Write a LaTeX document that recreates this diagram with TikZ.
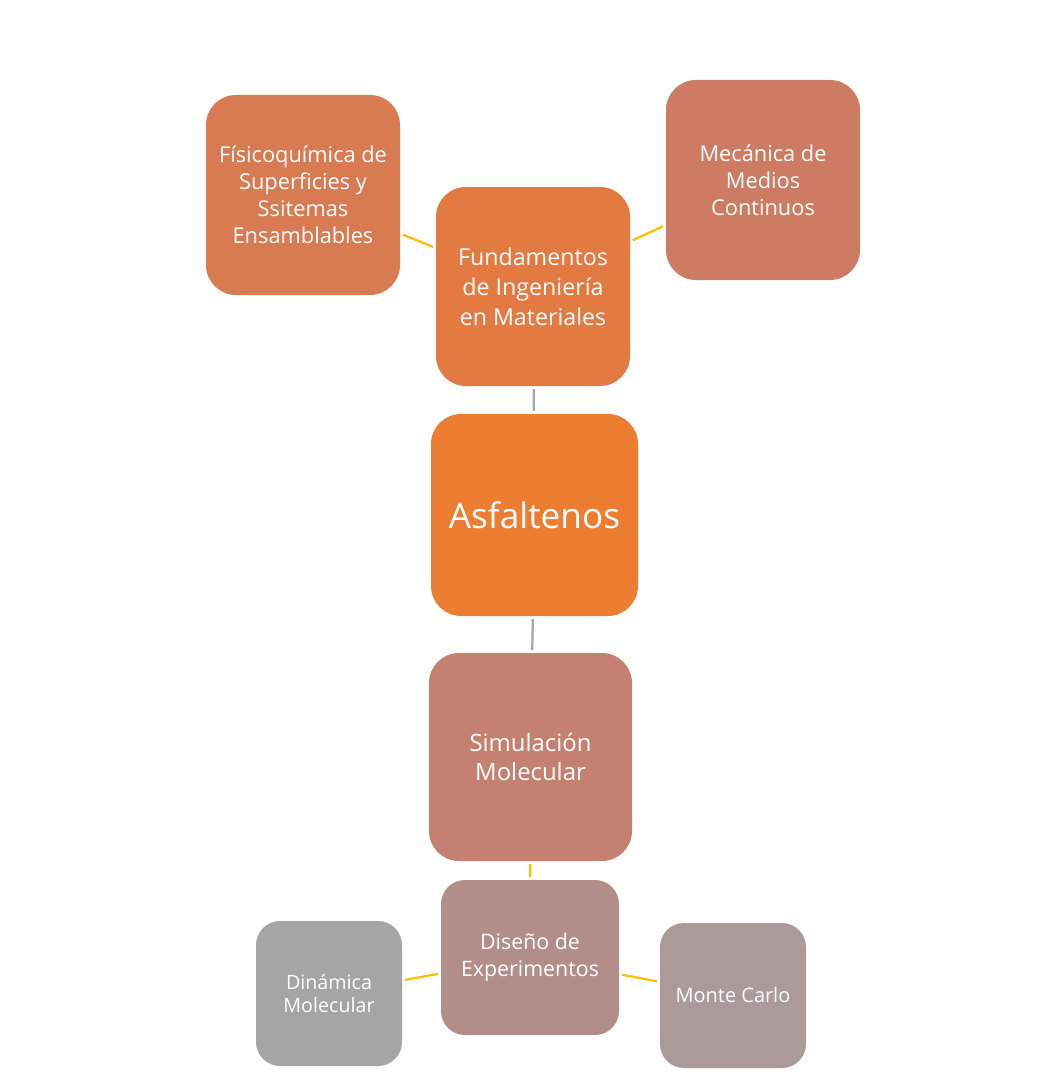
\documentclass[tikz,border=0pt]{standalone}
\usepackage{fontspec}
\setmainfont{Open Sans}
\usepackage{tikz}
\usetikzlibrary{positioning}
\definecolor{asorange}{RGB}{237,125,49}
\definecolor{asfund}{RGB}{226,122,66}
\definecolor{asfisi}{RGB}{216,123,83}
\definecolor{asmeca}{RGB}{205,123,98}
\definecolor{assimu}{RGB}{196,128,112}
\definecolor{asdise}{RGB}{178,142,136}
\definecolor{asdina}{RGB}{165,165,165}
\definecolor{asmont}{RGB}{172,153,153}
\definecolor{asyellow}{RGB}{255,192,0}
\definecolor{asgray}{RGB}{165,165,165}
\tikzset{
  asnode/.style={rounded corners=0.75cm, text=white, align=center,
    inner sep=2pt, font=\fontsize{15.5}{19.3}\selectfont},
  asline/.style={line width=1.6pt, draw=asyellow, shorten >=2pt, shorten <=2pt},
  asgline/.style={line width=1.6pt, draw=asgray, shorten >=2pt, shorten <=2pt}
}
\begin{document}
\begin{tikzpicture}
  \useasboundingbox (0,0) rectangle (26.3,-26.875);
  \node[asnode, fill=asfisi, minimum width=4.85cm, minimum height=5cm] (nP) at (7.575,-4.875) {Físicoquímica de\\Superficies y\\Ssitemas\\Ensamblables};
  \node[asnode, fill=asfund, minimum width=4.85cm, minimum height=4.975cm, font=\fontsize{16.5}{21.3}\selectfont] (nF) at (13.325,-7.1625) {Fundamentos\\de Ingeniería\\en Materiales};
  \node[asnode, fill=asmeca, minimum width=4.85cm, minimum height=5cm] (nM) at (19.075,-4.5) {Mecánica de\\Medios\\Continuos};
  \node[asnode, fill=asorange, minimum width=5.175cm, minimum height=5.05cm, font=\fontsize{25}{30}\selectfont] (nA) at (13.3625,-12.875) {Asfaltenos};
  \node[asnode, fill=assimu, minimum width=5.075cm, minimum height=5.2cm, font=\fontsize{17}{20.6}\selectfont] (nS) at (13.2625,-18.925) {Simulación\\Molecular};
  \node[asnode, fill=asdise, minimum width=4.45cm, minimum height=3.875cm, rounded corners=0.6cm, font=\fontsize{15.2}{19.2}\selectfont] (nD) at (13.25,-23.9375) {Diseño de\\Experimentos};
  \node[asnode, fill=asdina, minimum width=3.65cm, minimum height=3.625cm, rounded corners=0.6cm, font=\fontsize{14}{17}\selectfont] (nY) at (8.225,-24.8375) {Dinámica\\Molecular};
  \node[asnode, fill=asmont, minimum width=3.65cm, minimum height=3.625cm, rounded corners=0.6cm, font=\fontsize{14.2}{17}\selectfont] (nC) at (18.325,-24.8875) {Monte Carlo};
  \draw[asline] (nP) -- (nF);
  \draw[asline] (nF) -- (nM);
  \draw[asgline] (nF) -- (nA);
  \draw[asgline] (nA) -- (nS);
  \draw[asline] (nS) -- (nD);
  \draw[asline] (nY) -- (nD);
  \draw[asline] (nD) -- (nC);
\end{tikzpicture}
\end{document}
